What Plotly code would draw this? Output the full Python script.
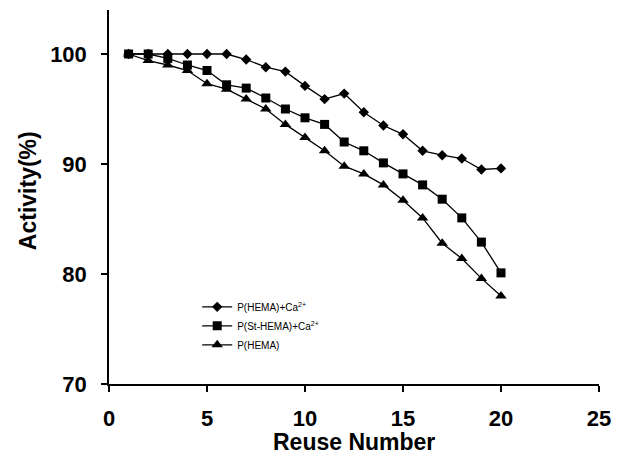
import plotly.graph_objects as go

reuse = list(range(1, 21))
hema_ca = [100, 100, 100, 100, 100, 100, 99.5, 98.8, 98.4, 97.1,
           95.9, 96.4, 94.7, 93.5, 92.7, 91.2, 90.8, 90.5, 89.5, 89.6]
st_hema_ca = [100, 100, 99.6, 99.0, 98.5, 97.2, 96.9, 96.0, 95.0, 94.2,
              93.6, 92.0, 91.2, 90.1, 89.1, 88.1, 86.8, 85.1, 82.9, 80.1]
hema = [100, 99.4, 99.0, 98.5, 97.3, 96.8, 95.9, 95.0, 93.6, 92.4,
        91.2, 89.8, 89.1, 88.1, 86.7, 85.1, 82.8, 81.4, 79.6, 78.0]

names = ["P(HEMA)+Ca<sup>2+</sup>", "P(St-HEMA)+Ca<sup>2+</sup>", "P(HEMA)"]
symbols = ["diamond", "square", "triangle-up"]
sizes = [8, 9, 10]
FONT = "Arial, Liberation Sans, sans-serif"

fig = go.Figure()
for name, ys, sym, sz in zip(names, [hema_ca, st_hema_ca, hema], symbols, sizes):
    fig.add_trace(go.Scatter(
        x=reuse, y=ys, mode="lines+markers", name=name,
        line=dict(color="black", width=1.3),
        marker=dict(symbol=sym, size=sz, color="black"),
    ))

L, R, T, B = 109, 15, 10, 71
pw, ph = 621 - L - R, 455 - T - B
def px_to_paper(px, py):
    return (px - L) / pw, (455 - B - py) / ph

ax, ay = px_to_paper(358, 442)
bx, by = px_to_paper(27, 191)

fig.update_layout(
    width=621, height=455,
    margin=dict(l=L, r=R, t=T, b=B),
    paper_bgcolor="white", plot_bgcolor="white",
    font=dict(family=FONT, color="black"),
    showlegend=True,
    legend=dict(x=0.18, y=0.245, xanchor="left", yanchor="top",
                bgcolor="rgba(0,0,0,0)", font=dict(size=10, family=FONT),
                tracegroupgap=2, itemwidth=30),
    xaxis=dict(range=[0, 25], tickvals=[0, 5, 10, 15, 20, 25],
               showline=True, linecolor="black", linewidth=1.5,
               ticks="outside", ticklen=6, tickcolor="black", tickwidth=1.5,
               showgrid=False, zeroline=False, ticklabelstandoff=8,
               tickfont=dict(size=22, family=FONT, weight="bold")),
    yaxis=dict(range=[70, 104], tickvals=[70, 80, 90, 100],
               showline=True, linecolor="black", linewidth=1.5,
               ticks="outside", ticklen=6, tickcolor="black", tickwidth=1.5,
               showgrid=False, zeroline=False, ticklabelstandoff=10,
               tickfont=dict(size=22, family=FONT, weight="bold")),
    annotations=[
        dict(text="<b>Reuse Number</b>", x=ax, y=ay, xref="paper", yref="paper",
             xanchor="center", yanchor="middle", showarrow=False,
             font=dict(size=23, family=FONT)),
        dict(text="<b>Activity(%)</b>", x=bx, y=by, xref="paper", yref="paper",
             xanchor="center", yanchor="middle", textangle=-90, showarrow=False,
             font=dict(size=23, family=FONT)),
    ],
)

fig.write_html("out.html")
